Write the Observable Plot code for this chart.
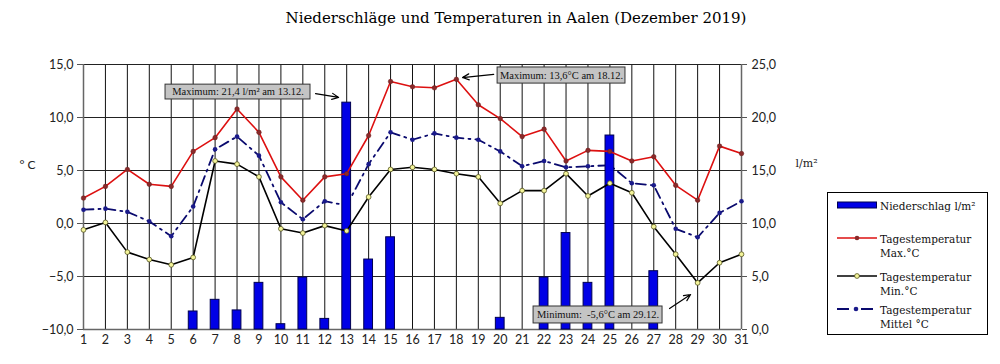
<!DOCTYPE html>
<html><head><meta charset="utf-8">
<script src="https://cdn.jsdelivr.net/npm/d3@7"></script>
<script src="https://cdn.jsdelivr.net/npm/@observablehq/plot@0.6"></script>
<style>
body{margin:0;background:#fff;width:1000px;height:364px;overflow:hidden;position:relative;font-family:"DejaVu Serif",serif;}
#title{height:40px;line-height:37px;text-align:center;font-size:15px;padding-left:32px;color:#000;}
#legend{position:absolute;left:827px;top:192px;width:159px;height:141px;border:1px solid #000;background:#fff;font-size:10.5px;color:#111;}
.item{position:absolute;left:0;display:flex;align-items:flex-start;}
.item svg{margin-left:9px;margin-right:3px;}
</style></head><body>
<div id="title">Niederschläge und Temperaturen in Aalen (Dezember 2019)</div>
<div id="chart"></div>
<div id="legend"></div>
<script>
const days = d3.range(1, 32);
const precip = [0,0,0,0,0,1.7,2.8,1.8,4.4,0.5,4.9,1.0,21.4,6.6,8.7,0,0,0,0,1.1,0,4.9,9.1,4.4,18.3,0,5.5,0,0,0,0];
const tMax = [2.4,3.5,5.1,3.7,3.5,6.8,8.1,10.8,8.6,4.4,2.2,4.4,4.7,8.3,13.4,12.9,12.8,13.6,11.2,9.9,8.2,8.9,5.9,6.9,6.8,5.9,6.3,3.6,2.2,7.3,6.6];
const tMin = [-0.6,0.1,-2.7,-3.4,-3.9,-3.2,5.9,5.6,4.4,-0.5,-0.9,-0.2,-0.7,2.5,5.1,5.3,5.1,4.7,4.4,1.9,3.1,3.1,4.7,2.6,3.8,2.9,-0.3,-2.9,-5.6,-3.7,-2.9];
const tMean = [1.3,1.4,1.1,0.2,-1.2,1.6,7.0,8.2,6.4,2.0,0.4,2.1,1.7,5.6,8.6,7.9,8.5,8.1,7.9,6.8,5.4,5.9,5.3,5.4,5.5,3.8,3.6,-0.5,-1.3,1.0,2.1];
const tempTicks = [-10,-5,0,5,10,15];
const seriesNames = ["Niederschlag l/m²","Tagestemperatur Max.°C","Tagestemperatur Min.°C","Tagestemperatur Mittel °C"];
// annotation boxes & arrows (data units: day, °C)
const notes = [
  {text:"Maximum: 21,4 l/m² am 13.12.", x1:4.74, x2:11.35, y1:11.7, y2:13.1, ax1:11.58, ay1:12.26, ax2:12.63, ay2:11.89},
  {text:"Maximum: 13,6°C am 18.12.", x1:19.88, x2:25.71, y1:13.2, y2:14.72, ax1:19.7, ay1:14.06, ax2:18.28, ay2:13.77},
  {text:"Minimum:  -5,6°C am 29.12.", x1:21.52, x2:27.4, y1:-9.43, y2:-7.83, ax1:27.72, ay1:-8.02, ax2:28.68, ay2:-6.7}
];
const offset = 10; // precip 0 l/m² maps to -10 °C on the shared scale
const fmt = d => d3.format(".1f")(d).replace(".", ",");
const rows = days.map((d,i)=>({day:d, p:precip[i], max:tMax[i], min:tMin[i], mean:tMean[i]}));

const plot = Plot.plot({
  width: 1000, height: 324,
  marginLeft: 83, marginRight: 259, marginTop: 24, marginBottom: 35,
  style: {fontFamily: "Lato, sans-serif", fontSize: "12px", color: "#222", background: "transparent"},
  x: {domain: [1, 31]},
  y: {domain: [-10, 15]},
  marks: [
    Plot.ruleX(days, {stroke: "#111", strokeWidth: 1}),
    Plot.ruleY(tempTicks, {stroke: "#222", strokeWidth: 1}),
    Plot.axisX({ticks: days, tickSize: 0, tickPadding: 6, tickFormat: d => d, fontSize: 12.5, label: null}),
    Plot.axisY({ticks: tempTicks, tickSize: 6, tickPadding: 4, tickFormat: fmt, fontSize: 12.5, label: null, stroke: "#555"}),
    Plot.axisY({anchor: "right", ticks: tempTicks, tickSize: 5, tickPadding: 5, tickFormat: d => fmt(d + offset), fontSize: 12.5, label: null, stroke: "#555"}),
    Plot.ruleX([1], {stroke: "#666", strokeWidth: 1.5}),
    Plot.ruleX([31], {stroke: "#666", strokeWidth: 1.5}),
    Plot.ruleY([-10], {stroke: "#666", strokeWidth: 1.5}),
    Plot.line(rows, {x: "day", y: "mean", stroke: "#0a0a6e", strokeWidth: 1.8, strokeDasharray: "10,5,2,5"}),
    Plot.dot(rows, {x: "day", y: "mean", r: 2.3, fill: "#1a1a8a", stroke: "none"}),
    Plot.rect(rows.filter(d => d.p > 0), {x1: d => d.day - 0.2, x2: d => d.day + 0.2, y1: -offset, y2: d => d.p - offset, fill: "#0000e6", stroke: "#000050", strokeWidth: 1}),
    Plot.line(rows, {x: "day", y: "min", stroke: "#000", strokeWidth: 1.6}),
    Plot.dot(rows, {x: "day", y: "min", r: 2.4, fill: "#f4f49a", stroke: "#555520", strokeWidth: 0.8}),
    Plot.line(rows, {x: "day", y: "max", stroke: "#dd1010", strokeWidth: 1.6}),
    Plot.dot(rows, {x: "day", y: "max", r: 2.3, fill: "#8a2a2a", stroke: "#6a1a1a", strokeWidth: 0.5}),
    Plot.rect(notes, {x1: "x1", x2: "x2", y1: "y1", y2: "y2", fill: "#c4c4c4", stroke: "#333", strokeWidth: 1}),
    Plot.text(notes, {x: d => (d.x1 + d.x2) / 2, y: d => (d.y1 + d.y2) / 2, text: "text", fontFamily: "Liberation Serif, serif", fontSize: 10.5, fill: "#111"}),
    Plot.arrow(notes, {x1: "ax1", y1: "ay1", x2: "ax2", y2: "ay2", stroke: "#000", strokeWidth: 1.2, headLength: 9, headAngle: 50}),
    Plot.text(["° C"], {x: 1, y: 5.5, dx: -64, textAnchor: "start", fontSize: 12}),
    Plot.text(["l/m²"], {x: 31, y: 5.7, dx: 54, textAnchor: "start", fontFamily: "DejaVu Serif, serif", fontSize: 11})
  ]
});
document.getElementById("chart").appendChild(plot);

// legend
const lg = document.getElementById("legend");
const items = [
  {top: 6, kind: "bar", lines: [seriesNames[0]]},
  {top: 39, kind: "max", lines: ["Tagestemperatur", "Max.°C"]},
  {top: 77, kind: "min", lines: ["Tagestemperatur", "Min.°C"]},
  {top: 110, kind: "mean", lines: ["Tagestemperatur", "Mittel °C"]}
];
for (const it of items) {
  const div = document.createElement("div");
  div.className = "item";
  div.style.top = it.top + "px";
  let sw = "";
  if (it.kind === "bar") sw = `<rect x="0.5" y="3" width="39" height="6" fill="#0000e6" stroke="#000050"/>`;
  if (it.kind === "max") sw = `<line x1="0" x2="40" y1="6" y2="6" stroke="#dd1010" stroke-width="1.6"/><circle cx="20" cy="6" r="2.3" fill="#8a2a2a"/>`;
  if (it.kind === "min") sw = `<line x1="0" x2="40" y1="6" y2="6" stroke="#000" stroke-width="1.6"/><circle cx="20" cy="6" r="2.4" fill="#f4f49a" stroke="#555520" stroke-width="0.8"/>`;
  if (it.kind === "mean") sw = `<line x1="0" x2="40" y1="6" y2="6" stroke="#0a0a6e" stroke-width="1.8" stroke-dasharray="12,5,2,5"/><circle cx="19" cy="6" r="2.3" fill="#1a1a8a"/>`;
  div.innerHTML = `<svg width="40" height="12">${sw}</svg><div style="line-height:14px">${it.lines.join("<br>")}</div>`;
  lg.appendChild(div);
}
</script>
</body></html>
